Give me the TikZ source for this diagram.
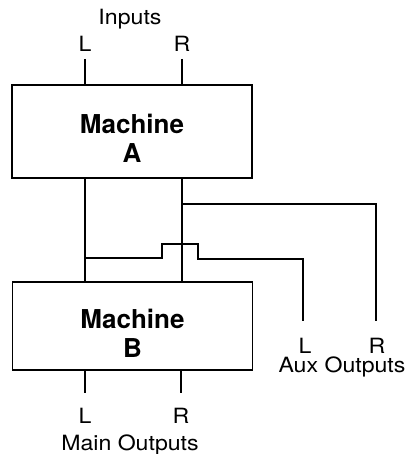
\documentclass[tikz,border=0pt]{standalone}
\usepackage{fontspec}
\setmainfont{TeX Gyre Heros}
\newfontfamily\lblfont[FakeStretch=1.1]{TeX Gyre Heros}
\usetikzlibrary{calc, positioning}

\begin{document}
\begin{tikzpicture}[
    x=1pt, y=-1pt,
    machine/.style={draw, line width=1.4pt, minimum width=240pt, inner sep=0pt},
    boxtext/.style={align=center, inner sep=0pt,
                font=\fontsize{26}{29}\selectfont\bfseries},
    lbl/.style={anchor=base, inner sep=0pt, font=\lblfont\fontsize{21}{23}\selectfont},
    wire/.style={line width=1.9pt}
  ]
    \useasboundingbox (0,0) rectangle (408,454);

    \node[machine, minimum height=93pt] (machA) at (132,131.5) {};
    \node[boxtext] (machAtxt) at ([yshift=-7pt]machA.center) {Machine\\A};
    \node[machine, minimum height=88pt] (machB) at (132.5,326) {};
    \node[boxtext] (machBtxt) at ([yshift=-7pt]machB.center) {Machine\\B};

    \node[lbl] (inputs) at (130,25) {Inputs};
    \node[lbl] (inL) at (85,52) {L};
    \node[lbl] (inR) at (182,52) {R};

    \node[lbl] (mainL) at (85,423) {L};
    \node[lbl] (mainR) at (181,423) {R};
    \node[lbl] (mainout) at (130,450) {Main Outputs};

    \node[lbl] (auxL) at (305,353) {L};
    \node[lbl] (auxR) at (377,353) {R};
    \node[lbl] (auxout) at (342,372) {Aux Outputs};

    \coordinate (inLend) at (85,59);
    \coordinate (inRend) at (182,59);
    \coordinate (mainLend) at (85,393);
    \coordinate (mainRend) at (181,393);
    \coordinate (auxLend) at (303,321);
    \coordinate (auxRend) at (376,321);

    % inputs into A
    \draw[wire] (inLend) -- (inLend |- machA.north);
    \draw[wire] (inRend) -- (inRend |- machA.north);

    % A to B
    \draw[wire] (machA.south -| inLend) -- (machB.north -| inLend);
    \draw[wire] (machA.south -| inRend) -- (machB.north -| inRend);

    % aux taps
    \draw[wire] (182,204) -| (auxRend);
    \draw[wire] (85,258) -- (162,258) -- (162,244) -- (198,244) -- (198,259) -| (auxLend);

    % main outputs
    \draw[wire] (machB.south -| mainLend) -- (mainLend);
    \draw[wire] (machB.south -| mainRend) -- (mainRend);
  \end{tikzpicture}
\end{document}
